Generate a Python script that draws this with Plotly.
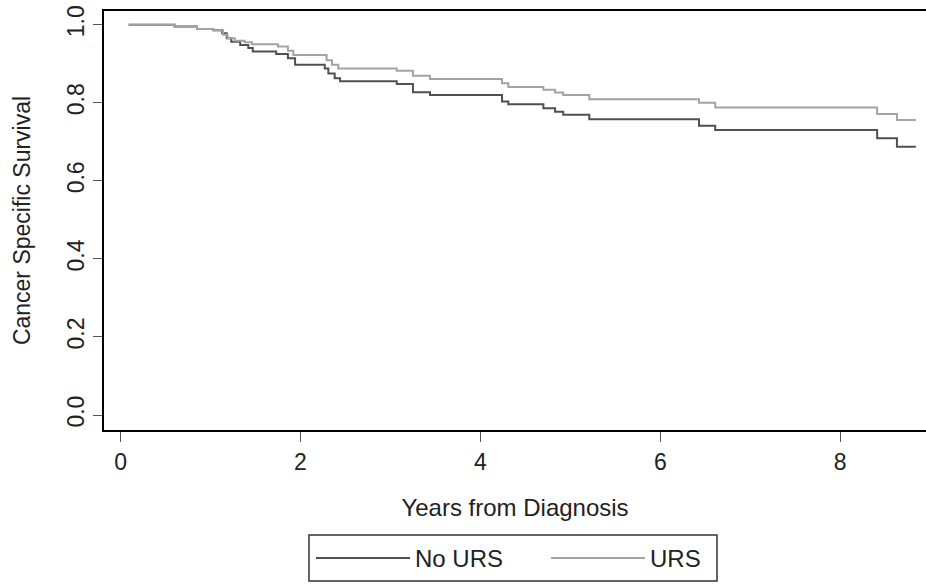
import plotly.graph_objects as go

# Kaplan-Meier step data (years, survival)
no_urs_t = [0.09, 0.60, 0.85, 1.03, 1.13, 1.18, 1.23, 1.33, 1.42, 1.47, 1.73, 1.86, 1.94,
            2.27, 2.31, 2.38, 2.44, 3.07, 3.25, 3.44, 4.24, 4.31, 4.70, 4.83, 4.92, 5.21,
            6.43, 6.61, 8.41, 8.63, 8.84]
no_urs_s = [1.000, 0.995, 0.989, 0.986, 0.978, 0.965, 0.956, 0.948, 0.940, 0.931, 0.925, 0.914, 0.897,
            0.888, 0.875, 0.863, 0.855, 0.848, 0.827, 0.820, 0.803, 0.796, 0.786, 0.777, 0.769, 0.758,
            0.741, 0.730, 0.709, 0.687, 0.687]

urs_t = [0.09, 0.60, 0.85, 1.03, 1.14, 1.19, 1.27, 1.38, 1.46, 1.75, 1.86, 1.92, 2.29, 2.35, 2.42,
         3.07, 3.25, 3.44, 4.24, 4.31, 4.70, 4.83, 4.92, 5.21, 6.43, 6.61, 8.41, 8.63, 8.84]
urs_s = [1.000, 0.995, 0.989, 0.986, 0.974, 0.965, 0.959, 0.955, 0.950, 0.944, 0.933, 0.922, 0.909, 0.897, 0.888,
         0.882, 0.869, 0.861, 0.850, 0.840, 0.833, 0.826, 0.820, 0.809, 0.800, 0.788, 0.771, 0.756, 0.756]

x_ticks = [0, 2, 4, 6, 8]
y_ticks = [0.0, 0.2, 0.4, 0.6, 0.8, 1.0]

FONT = "Liberation Sans, Arial, sans-serif"
TXT = "#222222"

fig = go.Figure()
fig.add_trace(go.Scatter(x=no_urs_t, y=no_urs_s, mode="lines", name="No URS", legend="legend",
                         line=dict(color="#505050", width=2, shape="hv")))
fig.add_trace(go.Scatter(x=urs_t, y=urs_s, mode="lines", name="URS", legend="legend2",
                         line=dict(color="#a3a3a3", width=2, shape="hv")))

legend_common = dict(
    orientation="h", xref="container", yref="container",
    yanchor="top", xanchor="left",
    borderwidth=0, bgcolor="rgba(0,0,0,0)",
    itemwidth=94, font=dict(size=24, family=FONT, color=TXT),
)

fig.update_layout(
    width=926, height=585,
    margin=dict(l=104, r=0, t=11, b=155),
    paper_bgcolor="white", plot_bgcolor="white",
    font=dict(family=FONT, size=23, color=TXT),
    showlegend=True,
    legend=dict(legend_common, x=311/926, y=1-536/585),
    legend2=dict(legend_common, x=546/926, y=1-536/585),
    shapes=[dict(type="rect", xref="paper", yref="paper",
                 x0=(309-104)/822, x1=(717-104)/822,
                 y0=(430-581)/419, y1=(430-535)/419,
                 line=dict(color="#333333", width=1.5), fillcolor="rgba(0,0,0,0)",
                 layer="above")],
    xaxis=dict(
        range=[-0.184, 8.953], tickvals=x_ticks, ticktext=[str(v) for v in x_ticks],
        showgrid=False, zeroline=False,
        showline=True, linecolor="black", linewidth=2, mirror=True,
        ticks="outside", ticklen=10, tickwidth=1, tickcolor="#555555",
        tickfont=dict(size=23),
        title=dict(text="Years from Diagnosis", font=dict(size=24), standoff=26),
    ),
    yaxis=dict(
        range=[-0.0384, 1.035], tickvals=y_ticks, ticktext=[f"{v:.1f}" for v in y_ticks],
        tickangle=-90,
        showgrid=False, zeroline=False,
        showline=True, linecolor="black", linewidth=2, mirror=False,
        ticks="outside", ticklen=9, tickwidth=1, tickcolor="#555555",
        tickfont=dict(size=23),
        title=dict(text="Cancer Specific Survival", font=dict(size=23), standoff=26),
    ),
)

fig.write_html("out.html")
